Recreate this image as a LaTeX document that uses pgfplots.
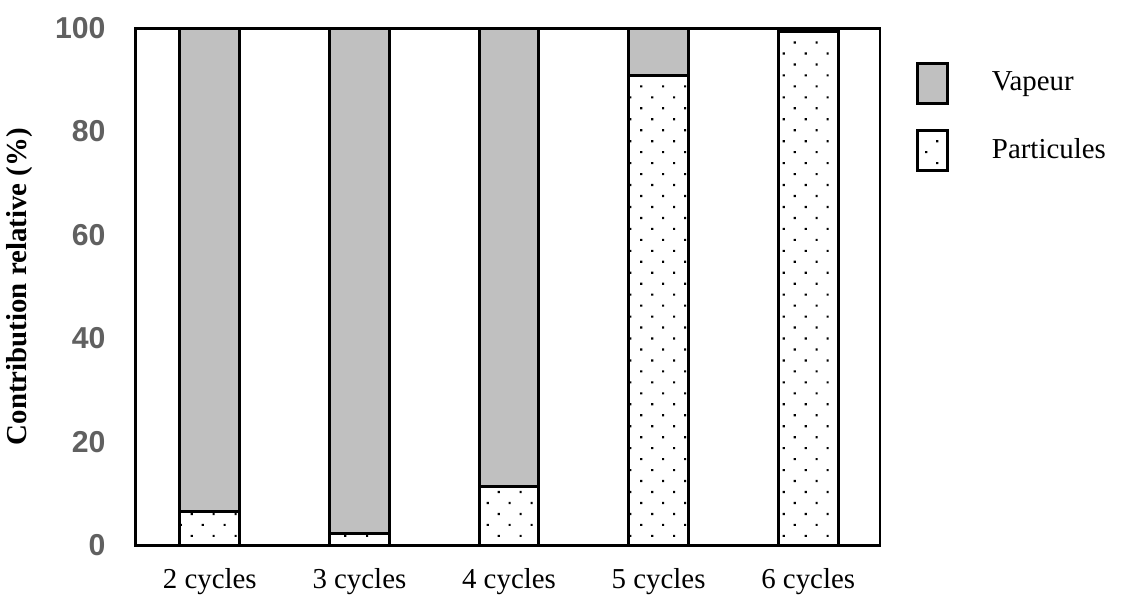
\documentclass[border=0pt]{standalone}
\usepackage{fontspec}
\setmainfont{Liberation Serif}
\newfontfamily\arialf{Liberation Sans}
\usepackage{pgfplots}
\pgfplotsset{compat=1.18}
\usetikzlibrary{patterns}
\definecolor{vapeurgray}{RGB}{192,192,192}
\definecolor{tickgray}{RGB}{96,96,96}
% sparse staggered dots, like the original fill
\pgfdeclarepatternformonly{sparsedots}{\pgfpoint{-1pt}{-1pt}}{\pgfpoint{9.2pt}{9.2pt}}{\pgfpoint{8.2pt}{8.2pt}}{
  \pgfpathrectangle{\pgfpoint{1.6pt}{1.6pt}}{\pgfpoint{0.8pt}{0.8pt}}
  \pgfpathrectangle{\pgfpoint{5.7pt}{5.7pt}}{\pgfpoint{0.8pt}{0.8pt}}
  \pgfusepath{fill}}
\pgfplotsset{boxlegend/.style={legend image code/.code={%
  \draw[##1,line width=1.1pt] (0pt,-7.5pt) rectangle (11.2pt,7.5pt);}}}
\begin{document}
\begin{tikzpicture}
\begin{axis}[
  scale only axis,
  width=278.6pt, height=193.4pt,
  ybar stacked, bar width=22.4pt,
  xmin=-0.5, xmax=4.48, ymin=0, ymax=100,
  xtick=data,
  xticklabels={2 cycles,3 cycles,4 cycles,5 cycles,6 cycles},
  ytick={0,20,40,60,80,100},
  major tick length=0pt,
  axis line style={line width=1.1pt},
  /pgf/number format/assume math mode=true,
  yticklabel style={font=\arialf\bfseries\fontsize{11.3}{13}\selectfont, text=tickgray, xshift=-7.5pt},
  xticklabel style={font=\fontsize{10.8}{13}\selectfont, yshift=-5pt},
  ylabel={Contribution relative (\%)},
  ylabel style={font=\fontsize{10.8}{13}\selectfont\bfseries, at={(axis description cs:-0.155,0.5)}, anchor=center},
  legend style={at={(rel axis cs:1.048,0.936)}, anchor=north west, draw=none, fill=none,
    inner sep=0pt, row sep=9pt, column sep=14pt,
    font=\fontsize{10.8}{13}\selectfont, legend cell align=left},
  reverse legend,
]
% bottom: particules
\addplot[draw=black, line width=1.1pt, pattern=sparsedots, boxlegend]
  coordinates {(0,6.6) (1,2.3) (2,11.4) (3,90.9) (4,99.3)};
% top: vapeur
\addplot[draw=black, line width=1.1pt, fill=vapeurgray, boxlegend]
  coordinates {(0,93.4) (1,97.7) (2,88.6) (3,9.1) (4,0.7)};
\legend{Particules, Vapeur}
\end{axis}
\pgfresetboundingbox
\path ([shift={(-50.5pt,-19pt)}]current axis.south west) rectangle ([shift={(90.5pt,10.5pt)}]current axis.north east);
\end{tikzpicture}
\end{document}
